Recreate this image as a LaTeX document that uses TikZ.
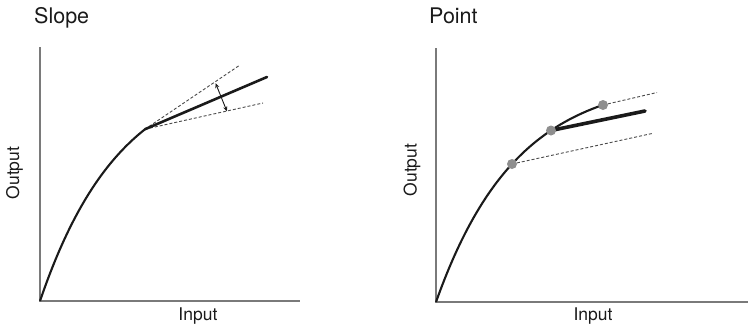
\documentclass[tikz,border=0pt]{standalone}
\usepackage{fontspec}
\setmainfont{TeX Gyre Heros}
\usepackage{tikz}
\usetikzlibrary{arrows.meta,positioning,calc}
\definecolor{ink}{HTML}{1A1A1A}
\definecolor{axisgrey}{HTML}{7A7A7A}
\definecolor{dashgrey}{HTML}{4A4A4A}
\definecolor{knotgrey}{HTML}{8E8E8E}
\tikzset{
  axis/.style={draw=axisgrey,line width=1.1pt},
  curve/.style={draw=ink,line width=2.1pt},
  heavy/.style={draw=ink,line width=2.6pt,line cap=round},
  heavier/.style={draw=ink,line width=3.6pt,line cap=round},
  guide/.style={draw=dashgrey,line width=0.9pt,dash pattern=on 3pt off 2pt},
  span/.style={{Stealth[length=5pt,width=4pt]}-{Stealth[length=5pt,width=4pt]},draw=ink,line width=0.9pt},
  knot/.style={circle,fill=knotgrey,inner sep=0pt,minimum size=10pt},
  lbl/.style={font=\fontsize{17.5}{20}\selectfont,text=ink,inner sep=0pt},
  ttl/.style={font=\fontsize{21.5}{24}\selectfont,text=ink,inner sep=0pt,anchor=base west}
}

\begin{document}
\begin{tikzpicture}[x=1pt,y=-1pt]
  \useasboundingbox (0,0) rectangle (748,327);
  % slope panel
  \node[ttl] (slopettl) at (34,23.5) {Slope};
  \coordinate (so) at (40,301);
  \coordinate (sy) at (40,47);
  \coordinate (sx) at (300,301);
  \coordinate (knee) at (145,129.2);
  \coordinate (sup) at (240,65);
  \coordinate (slow) at (263,103);
  \coordinate (send) at (267,77);
  \coordinate (sa) at (215.5,83);
  \coordinate (sb) at (227,111.5);
  \draw[axis] (sy) -- (so) -- (sx);
  \draw[curve] plot[domain=0:105,samples=60] ({40+\x},{301-235*(1-exp(-\x/80))});
  \draw[guide] (knee) -- (sup);
  \draw[guide] (knee) -- (slow);
  \draw[heavy] (knee) -- (send);
  \draw[span] (sa) -- (sb);
  \node[lbl,rotate=90] (sout) at (14.5,173) {Output};
  \node[lbl,anchor=base] (sin) at (198,320.5) {Input};
  % point panel
  \node[ttl] (pointttl) at (429,23.5) {Point};
  \coordinate (po) at (436,302);
  \coordinate (py) at (436,48);
  \coordinate (px) at (748,302);
  \coordinate (pa) at (512,164);
  \coordinate (pb) at (551,130.5);
  \coordinate (pc) at (603,105);
  \coordinate (pcend) at (657,92.5);
  \coordinate (pbend) at (645,111);
  \coordinate (paend) at (652,133.5);
  \draw[axis] (py) -- (po) -- (px);
  \draw[curve] plot[domain=0:167,samples=80] ({436+\x},{302-225*(1-exp(-\x/80))});
  \draw[guide] (pa) -- (paend);
  \draw[guide] (pc) -- (pcend);
  \draw[heavier] (pb) -- (pbend);
  \node[knot] (ka) at (pa) {};
  \node[knot] (kb) at (pb) {};
  \node[knot] (kc) at (pc) {};
  \node[lbl,rotate=90] (pout) at (412,170) {Output};
  \node[lbl,anchor=base] (pin) at (593,320.5) {Input};
\end{tikzpicture}
\end{document}
